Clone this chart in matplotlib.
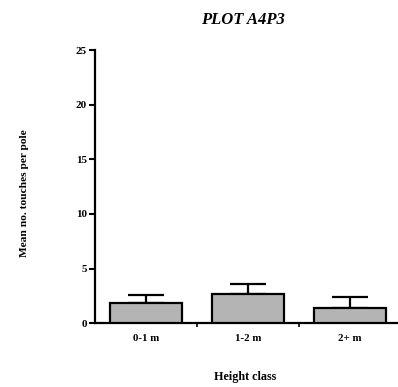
import matplotlib
matplotlib.use("Agg")
import matplotlib.pyplot as plt
import numpy as np

categories = ["0-1 m", "1-2 m", "2+ m"]
means = [1.9, 2.7, 1.4]
errors = [0.7, 0.9, 1.0]
y_ticks = [0, 5, 10, 15, 20, 25]

plt.rcParams["font.family"] = ["Liberation Serif", "DejaVu Serif"]

fig = plt.figure(figsize=(3.98, 3.87), dpi=100)
W, H = 398, 387
ax = fig.add_axes([95 / W, (H - 323.3) / H, (401 - 95) / W, 273.3 / H])

x = np.arange(len(categories))
ax.bar(x, means, width=0.7, color="#b4b4b4", edgecolor="black",
       linewidth=1.6, zorder=3)
ax.errorbar(x, means, yerr=[np.zeros(len(errors)), errors], fmt="none",
            ecolor="black", elinewidth=1.6, capsize=13, capthick=1.6,
            zorder=2)

ax.set_xlim(-0.5, 2.5)
ax.set_ylim(0, 25)
ax.set_yticks(y_ticks)
ax.set_yticklabels([str(t) for t in y_ticks], fontsize=8, fontweight="bold")
ax.set_xticks(x)
ax.set_xticklabels(categories, fontsize=7.8, fontweight="bold")
ax.set_xticks([0.5, 1.5], minor=True)
ax.tick_params(axis="x", which="major", length=0, pad=8)
ax.tick_params(axis="x", which="minor", length=3, width=1.2, direction="out")
ax.tick_params(axis="y", length=4, width=1.5, direction="out", pad=2)

for side in ("top", "right"):
    ax.spines[side].set_visible(False)
ax.spines["left"].set_linewidth(1.6)
ax.spines["bottom"].set_linewidth(1.6)

fig.text(243 / W, 1 - 20 / H, "PLOT A4P3", ha="center", va="center",
         fontsize=12, fontweight="bold", fontstyle="italic")
fig.text(245 / W, 1 - 377 / H, "Height class", ha="center", va="center",
         fontsize=8.7, fontweight="bold")
fig.text(25 / W, 1 - 193 / H, "Mean no. touches per pole", ha="center",
         va="center", rotation=90, fontsize=8.2, fontweight="bold")

fig.savefig("out.png", dpi=100)
